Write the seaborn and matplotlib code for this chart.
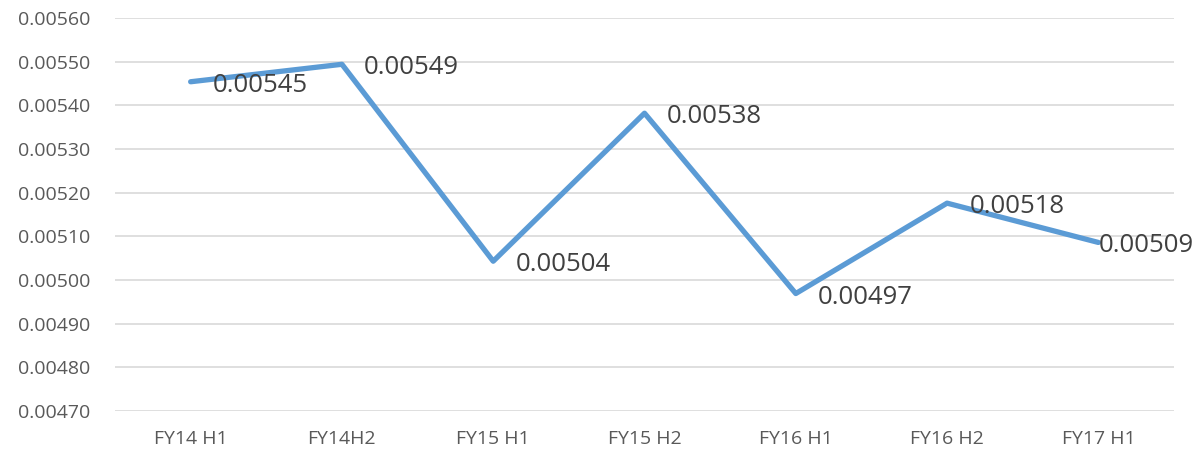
import matplotlib
matplotlib.use("Agg")
import matplotlib.pyplot as plt
import seaborn as sns
import pandas as pd
import numpy as np

periods = ["FY14 H1", "FY14H2", "FY15 H1", "FY15 H2", "FY16 H1", "FY16 H2", "FY17 H1"]
values = [0.005454, 0.005494, 0.005043, 0.005382, 0.004969, 0.005176, 0.005086]
y_ticks = [0.00470, 0.00480, 0.00490, 0.00500, 0.00510, 0.00520, 0.00530, 0.00540, 0.00550, 0.00560]

sns.set_theme(style="white")
plt.rcParams["font.family"] = ["Open Sans", "DejaVu Sans"]

df = pd.DataFrame({"period": periods, "value": values})
df["pos"] = np.arange(len(periods))

fig = plt.figure(figsize=(11.96, 4.55), dpi=100)
ax = fig.add_axes([115 / 1196, 1 - 411 / 455, (1174 - 115) / 1196, (411 - 18) / 455])

sns.lineplot(data=df, x="pos", y="value", ax=ax, color="#5B9BD5", linewidth=3.8,
             solid_capstyle="round", zorder=3)

ax.set_xlim(-0.5, len(periods) - 0.5)
ax.set_ylim(y_ticks[0], y_ticks[-1])
ax.set_yticks(y_ticks)
ax.set_yticklabels([f"{t:.5f}" for t in y_ticks])
ax.set_xticks(df["pos"])
ax.set_xticklabels(periods)
ax.tick_params(axis="both", length=0, labelsize=14, colors="#595959")
ax.tick_params(axis="y", pad=18)
ax.tick_params(axis="x", pad=14)
ax.set_xlabel("")
ax.set_ylabel("")
ax.grid(axis="y", color="#D9D9D9", linewidth=1.2)
ax.grid(axis="x", visible=False)
for s in ax.spines.values():
    s.set_visible(False)

# value labels: right of each point, last one kept inside the frame
for i, (p, v) in enumerate(zip(df["pos"], df["value"])):
    dx = 16 if i < len(periods) - 1 else 0
    ax.annotate(f"{v:.5f}", (p, v), xytext=(dx, -2.5), textcoords="offset points",
                ha="left", va="center", fontsize=18.5, color="#404040", zorder=4)

fig.savefig("out.png", dpi=100)
